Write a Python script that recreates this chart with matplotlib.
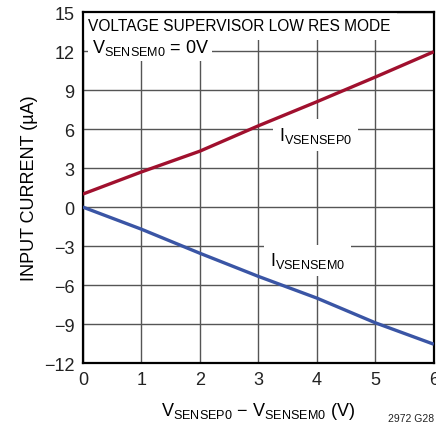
import matplotlib
matplotlib.use("Agg")
import matplotlib.pyplot as plt

plt.rcParams['font.family'] = ['Liberation Sans Narrow', 'Liberation Sans', 'DejaVu Sans']
plt.rcParams['mathtext.fontset'] = 'custom'
plt.rcParams['mathtext.rm'] = 'Liberation Sans'

x_vals = [0, 1, 2, 3, 4, 5, 6]
i_sensep0 = [1.0, 2.7, 4.3, 6.25, 8.1, 10.0, 11.95]
i_sensem0 = [0.0, -1.7, -3.55, -5.33, -7.0, -8.9, -10.55]
x_ticks = [0, 1, 2, 3, 4, 5, 6]
y_ticks = [-12, -9, -6, -3, 0, 3, 6, 9, 12, 15]
y_ticklabels = ['\u221212', '\u22129', '\u22126', '\u22123', '0', '3', '6', '9', '12', '15']

fig = plt.figure(figsize=(4.36, 4.35), dpi=100)
ax = fig.add_axes([0.19, 0.163, 0.805, 0.807])

ax.plot(x_vals, i_sensep0, color='#a0102e', lw=2.4, zorder=3, solid_capstyle='butt')
ax.plot(x_vals, i_sensem0, color='#3a55a5', lw=2.4, zorder=3, solid_capstyle='butt')

ax.set_xlim(0, 6)
ax.set_ylim(-12, 15)
ax.set_xticks(x_ticks)
ax.set_yticks(y_ticks)
ax.set_yticklabels(y_ticklabels)
ax.tick_params(length=0, labelsize=13, colors='#222222', pad=6)
ax.grid(True, color='#555555', lw=1.0, zorder=1)
ax.set_axisbelow(True)
for s in ax.spines.values():
    s.set_linewidth(1.6)
    s.set_color('black')

ax.set_xlabel('V$_{\\mathregular{SENSEP0}}$ \u2212 V$_{\\mathregular{SENSEM0}}$ (V)',
              fontsize=13, labelpad=8)
ax.set_ylabel('INPUT CURRENT (\u00b5A)', fontsize=13, labelpad=4)

ax.text(0.09, 14.0, 'VOLTAGE SUPERVISOR LOW RES MODE', fontsize=11.2, va='center', ha='left',
        bbox=dict(facecolor='white', edgecolor='none', pad=5), zorder=2)
ax.text(0.15, 12.3, 'V$_{\\mathregular{SENSEM0}}$ = 0V', fontsize=13, va='center', ha='left',
        bbox=dict(facecolor='white', edgecolor='none', pad=2.5), zorder=2)
ax.text(3.35, 5.55, 'I$_{\\mathregular{VSENSEP0}}$', fontsize=13, va='center', ha='left',
        bbox=dict(facecolor='white', edgecolor='none', pad=4), zorder=2)
ax.text(3.2, -4.1, 'I$_{\\mathregular{VSENSEM0}}$', fontsize=13, va='center', ha='left',
        bbox=dict(facecolor='white', edgecolor='none', pad=4), zorder=2)

fig.text(0.995, 0.025, '2972 G28', fontsize=7.5, ha='right', va='bottom', color='#222222')

fig.savefig('out.png', dpi=100)
